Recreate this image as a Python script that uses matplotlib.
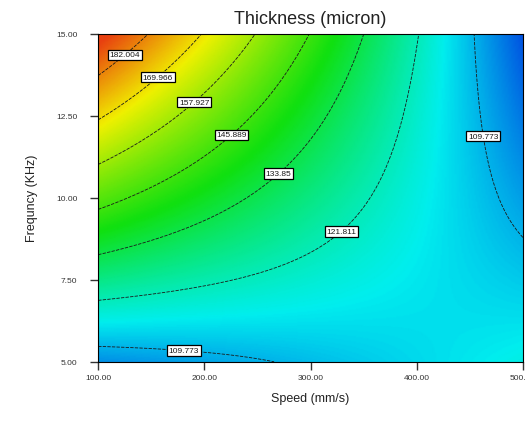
import numpy as np
import matplotlib
matplotlib.use("Agg")
import matplotlib.pyplot as plt
from matplotlib.colors import LinearSegmentedColormap

plt.rcParams['font.family'] = ['Liberation Sans', 'DejaVu Sans']

# contour levels printed on the chart
levels = [109.773, 121.811, 133.85, 145.889, 157.927, 169.966, 182.004]

# points (speed mm/s, frequency KHz, thickness)
pt_speed = [100, 100, 100, 100, 100, 100, 100,
            149, 199, 251, 301, 349, 401, 453,
            500, 462, 268, 181,
            122, 155, 190, 224, 271, 331,
            243, 380, 287, 243]
pt_freq = [13.63, 12.32, 10.98, 9.66, 8.35, 6.92, 5.30,
           15, 15, 15, 15, 15, 15, 15,
           8.84, 11.9, 5.0, 5.55,
           14.48, 13.72, 12.93, 11.98, 10.70, 8.90,
           7.59, 11.5, 11.49, 9.88]
pt_thick = [182.004, 169.966, 157.927, 145.889, 133.85, 121.811, 109.773,
            182.004, 169.966, 157.927, 145.889, 133.85, 121.811, 109.773,
            109.773, 109.773, 109.773, 109.773,
            182.004, 169.966, 157.927, 145.889, 133.85, 121.811,
            121.811, 121.811, 133.85, 133.85]

# where the contour labels sit
label_pos = [(122, 14.48), (155, 13.72), (190, 12.93), (224, 11.98),
             (271, 10.70), (331, 8.90), (458, 11.86), (181, 5.55)]

xticks = [100, 200, 300, 400, 500]
yticks = [5, 7.5, 10, 12.5, 15]

# colour ramp stops (thickness value -> colour), as seen on the chart
stop_vals = [98, 116, 140, 168, 191]
stop_cols = ["#0048e0", "#00eeee", "#10e010", "#f0f000", "#e84010"]

# quadratic response surface fitted to the read points
xs = np.array(pt_speed, float)
ys = np.array(pt_freq, float)
A = np.column_stack([np.ones_like(xs), xs, ys, xs * ys, xs ** 2, ys ** 2])
coef = np.linalg.lstsq(A, np.array(pt_thick), rcond=None)[0]

gx, gy = np.meshgrid(np.linspace(100, 500, 300), np.linspace(5, 15, 300))
gz = (coef[0] + coef[1] * gx + coef[2] * gy + coef[3] * gx * gy
      + coef[4] * gx ** 2 + coef[5] * gy ** 2)

vmin, vmax = stop_vals[0], stop_vals[-1]
cmap = LinearSegmentedColormap.from_list(
    "de", [((v - vmin) / (vmax - vmin), c) for v, c in zip(stop_vals, stop_cols)])

fig = plt.figure(figsize=(5.25, 4.35), dpi=100)
ax = fig.add_axes([0.187, 0.166, 0.809, 0.754])
ax.pcolormesh(gx, gy, gz, cmap=cmap, shading="gouraud", vmin=vmin, vmax=vmax)
cs = ax.contour(gx, gy, gz, levels=levels, colors="#1a1a1a", linewidths=0.6,
                linestyles=[(0, (4, 1.5))])
lbls = ax.clabel(cs, fmt=lambda v: f"{v:g}", fontsize=6, inline=False,
                 manual=label_pos)
for t in lbls:
    t.set_bbox(dict(facecolor="white", edgecolor="black", linewidth=0.9, pad=1.2))
    t.set_rotation(0)

ax.set_xlim(100, 500)
ax.set_ylim(5, 15)
ax.set_xticks(xticks)
ax.set_yticks(yticks)
ax.set_xticklabels([f"{v:.2f}" for v in xticks])
ax.set_yticklabels([f"{v:.2f}" for v in yticks])
ax.tick_params(direction="out", length=6, width=1, labelsize=6, colors="#333333")
ax.tick_params(axis="y", pad=9)
ax.tick_params(axis="x", pad=3)
for s in ax.spines.values():
    s.set_linewidth(0.8)

ax.set_title("Thickness (micron)", fontsize=13, pad=8, color="#222222")
ax.set_xlabel("Speed (mm/s)", fontsize=9, labelpad=8, color="#222222")
ax.set_ylabel("Frequncy (KHz)", fontsize=9, labelpad=13, color="#222222")

fig.savefig("out.png", dpi=100)
